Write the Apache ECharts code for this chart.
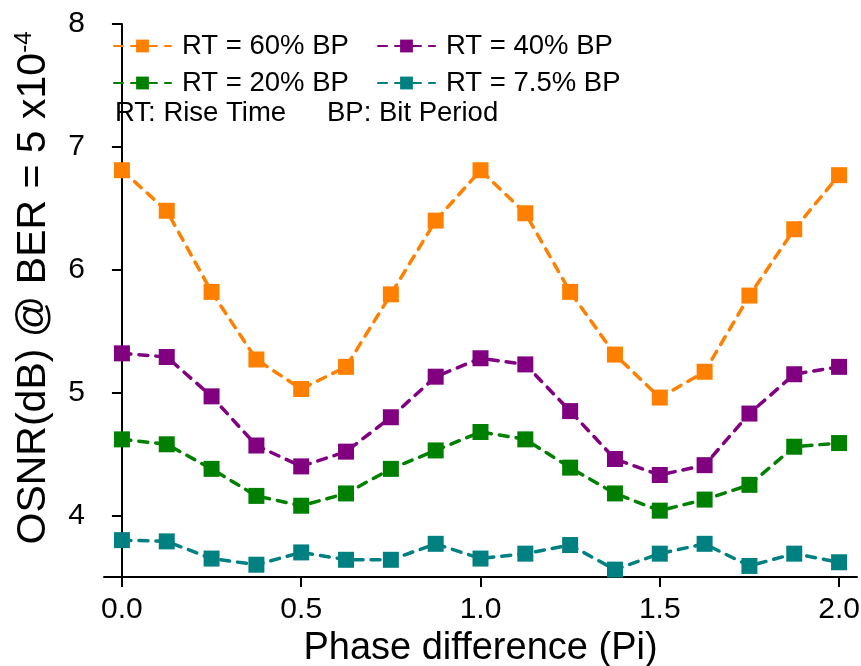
<!DOCTYPE html>
<html><head><meta charset="utf-8">
<script src="https://cdn.jsdelivr.net/npm/echarts@6/dist/echarts.min.js"></script>
<style>html,body{margin:0;padding:0;background:#fff}#c{width:861px;height:666px}</style>
</head><body><div id="c"></div>
<script>
var phase = [0, 0.125, 0.25, 0.375, 0.5, 0.625, 0.75, 0.875, 1.0, 1.125, 1.25, 1.375, 1.5, 1.625, 1.75, 1.875, 2.0];
var rt60 = [6.81, 6.48, 5.82, 5.27, 5.03, 5.21, 5.80, 6.40, 6.81, 6.46, 5.82, 5.31, 4.96, 5.17, 5.79, 6.33, 6.77];
var rt40 = [5.32, 5.29, 4.97, 4.57, 4.40, 4.52, 4.80, 5.13, 5.28, 5.23, 4.85, 4.46, 4.33, 4.41, 4.83, 5.15, 5.21];
var rt20 = [4.62, 4.58, 4.38, 4.16, 4.08, 4.18, 4.38, 4.53, 4.68, 4.62, 4.39, 4.18, 4.04, 4.13, 4.25, 4.56, 4.59];
var rt75 = [3.80, 3.79, 3.65, 3.60, 3.70, 3.64, 3.64, 3.77, 3.65, 3.69, 3.76, 3.56, 3.69, 3.77, 3.59, 3.69, 3.62];
var names = ['RT = 60% BP', 'RT = 40% BP', 'RT = 20% BP', 'RT = 7.5% BP'];
var colors = ['#FF8000', '#800080', '#008000', '#008080'];
var xTicks = [0, 0.5, 1.0, 1.5, 2.0];
var yTicks = [4, 5, 6, 7, 8];
var noteTexts = ['RT: Rise Time', 'BP: Bit Period'];
var xTitle = 'Phase difference (Pi)';
var yTitle = 'OSNR(dB) @ BER = 5 x10{sup|-4}';

var FONT = 'Liberation Sans, Arial, sans-serif';
function mk(name, vals, color) {
  return {
    name: name, type: 'line',
    data: phase.map(function (p, i) { return [p, vals[i]]; }),
    symbol: 'rect', symbolSize: 16,
    itemStyle: { color: color },
    lineStyle: { color: color, width: 3.5, type: [9, 8], cap: 'round' },
    emphasis: { disabled: true }
  };
}
var chart = echarts.init(document.getElementById('c'), null, { renderer: 'canvas' });
var legendCommon = {
  orient: 'vertical', itemWidth: 57, itemHeight: 16, itemGap: 9, padding: 0,
  textStyle: { fontFamily: FONT, fontSize: 27.5, lineHeight: 26, color: '#000', padding: [0, 0, 0, 6] }
};
chart.setOption({
  animation: false,
  backgroundColor: '#fff',
  grid: { left: 104, right: 4, top: 24, bottom: 89, outerBoundsMode: 'none', containLabel: false },
  legend: [
    Object.assign({ left: 113, top: 32, data: [names[0], names[2]] }, legendCommon),
    Object.assign({ left: 377, top: 32, data: [names[1], names[3]] }, legendCommon)
  ],
  graphic: [
    { type: 'text', left: 115, top: 99, style: { text: noteTexts[0], fontFamily: FONT, fontSize: 27.5, fill: '#000' } },
    { type: 'text', left: 327, top: 99, style: { text: noteTexts[1], fontFamily: FONT, fontSize: 27.5, fill: '#000' } },
    { type: 'text', x: 34, y: 288, rotation: Math.PI / 2,
      style: { text: yTitle, fontFamily: FONT, fontSize: 41, fill: '#000', align: 'center', verticalAlign: 'middle',
        rich: { sup: { fontFamily: FONT, fontSize: 24, fill: '#000', padding: [0, 0, 20, 0] } } } }
  ],
  xAxis: {
    type: 'value', min: -0.05, max: 2.05,
    name: xTitle, nameLocation: 'middle', nameGap: 43,
    nameTextStyle: { fontFamily: FONT, fontSize: 38, color: '#000' },
    axisLine: { show: true, lineStyle: { color: '#000', width: 2 } },
    axisTick: { show: true, length: 10, lineStyle: { color: '#000', width: 2 }, customValues: xTicks },
    axisLabel: { fontFamily: FONT, fontSize: 30, color: '#000', margin: 18, customValues: xTicks,
      formatter: function (v) { return v.toFixed(1); } },
    splitLine: { show: false }
  },
  yAxis: {
    type: 'value', min: 3.5, max: 8,
    axisLine: { show: true, lineStyle: { color: '#000', width: 2 } },
    axisTick: { show: true, length: 10, lineStyle: { color: '#000', width: 2 }, customValues: yTicks },
    axisLabel: { fontFamily: FONT, fontSize: 30, color: '#000', margin: 19, customValues: yTicks },
    splitLine: { show: false }
  },
  series: [
    mk(names[0], rt60, colors[0]),
    mk(names[1], rt40, colors[1]),
    mk(names[2], rt20, colors[2]),
    mk(names[3], rt75, colors[3])
  ]
});
</script></body></html>
